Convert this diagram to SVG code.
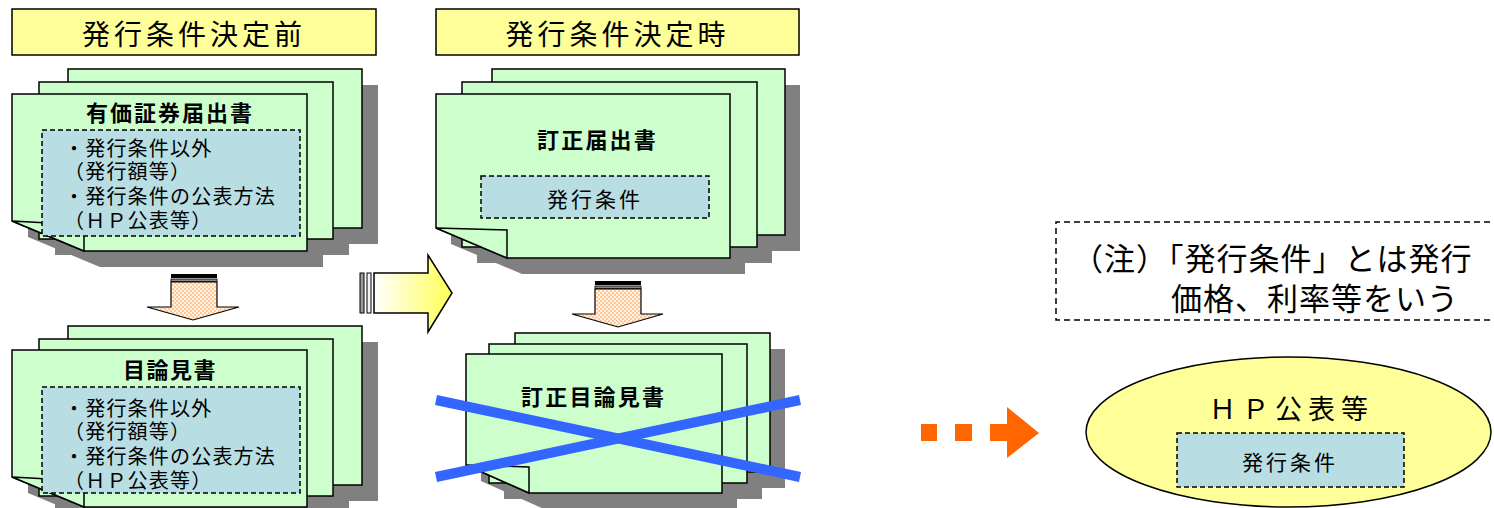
<svg xmlns="http://www.w3.org/2000/svg" width="1494" height="508" viewBox="0 0 1494 508">
<defs>
<style>
.t{font-family:"Noto Sans CJK JP","Noto Sans CJK SC",sans-serif;fill:#000}
.title{font-size:28px;letter-spacing:4px}
.hd{font-size:22px;font-weight:bold}
.li{font-family:"Liberation Sans","Noto Sans CJK JP","Noto Sans CJK SC",sans-serif;font-size:20px;letter-spacing:1.2px}
.sm{font-size:21px;letter-spacing:3px}
.note{font-family:"Liberation Sans","Noto Sans CJK JP","Noto Sans CJK SC",sans-serif;font-size:31px;letter-spacing:1px}
.tb{fill:#FFFF99;stroke:#000;stroke-width:1.5}
.sh{fill:#808080}
.sheet{fill:#CCFFCC;stroke:#000;stroke-width:1.5}
.ib{fill:#B8DEE3;stroke:#000;stroke-width:1.5;stroke-dasharray:5 3}
.dn{fill:url(#hatch);stroke:#000;stroke-width:1.2}
.x{stroke:#3366FF;stroke-width:10;fill:none}
</style>
<pattern id="hatch" width="4" height="4" patternUnits="userSpaceOnUse">
<rect width="4" height="4" fill="#FFF3E6"/>
<rect width="2" height="2" fill="#FFC896"/>
<rect x="2" y="2" width="2" height="2" fill="#FFC896"/>
</pattern>
<linearGradient id="yg" x1="0" y1="0" x2="1" y2="0">
<stop offset="0" stop-color="#FFFFFF"/>
<stop offset="1" stop-color="#FFFF55"/>
</linearGradient>
</defs>

<g id="title-before">
<rect class="tb" x="12" y="9" width="364" height="46"/>
<text class="t title" x="82" y="45">発行条件決定前</text>
</g>
<g id="title-at">
<rect class="tb" x="436" y="9" width="363" height="46"/>
<text class="t title" x="505.5" y="45">発行条件決定時</text>
</g>

<g id="doc-registration">
<rect class="sh" x="84" y="85" width="294" height="159"/>
<rect class="sh" x="55" y="98" width="294" height="157"/>
<path class="sh" d="M28,110 H323 V267 H100 L28,237 Z"/>
<rect class="sheet" x="68" y="69" width="294" height="159"/>
<rect class="sheet" x="39" y="82" width="294" height="157"/>
<path class="sheet" d="M12,94 H307 V251 H84 L12,221 Z"/>
<path class="sheet" d="M12,221 L84,225 V251 Z"/>
<text class="t hd" x="86" y="121" style="letter-spacing:2px">有価証券届出書</text>
<rect class="ib" x="42" y="130" width="258" height="106"/>
<text class="t li"><tspan x="64" y="156">・発行条件以外</tspan><tspan x="64" y="179">（発行額等）</tspan><tspan x="64" y="204">・発行条件の公表方法</tspan><tspan x="64" y="228">（ＨＰ公表等）</tspan></text>
</g>

<g id="doc-prospectus">
<rect class="sh" x="84" y="342" width="294" height="159"/>
<rect class="sh" x="55" y="355" width="294" height="157"/>
<path class="sh" d="M28,366 H323 V523 H100 L28,493 Z"/>
<rect class="sheet" x="68" y="326" width="294" height="159"/>
<rect class="sheet" x="39" y="339" width="294" height="157"/>
<path class="sheet" d="M12,350 H307 V507 H84 L12,477 Z"/>
<path class="sheet" d="M12,477 L84,481 V507 Z"/>
<text class="t hd" x="123" y="378" style="letter-spacing:1.5px">目論見書</text>
<rect class="ib" x="42" y="387" width="258" height="106"/>
<text class="t li"><tspan x="64" y="416">・発行条件以外</tspan><tspan x="64" y="439">（発行額等）</tspan><tspan x="64" y="464">・発行条件の公表方法</tspan><tspan x="64" y="488">（ＨＰ公表等）</tspan></text>
</g>

<g id="doc-amended-registration">
<rect class="sh" x="507" y="85" width="293" height="166"/>
<rect class="sh" x="477" y="98" width="295" height="165"/>
<path class="sh" d="M451,110 H745 V274 H522 L451,244 Z"/>
<rect class="sheet" x="492" y="69" width="293" height="166"/>
<rect class="sheet" x="462" y="82" width="295" height="165"/>
<path class="sheet" d="M436,94 H730 V258 H507 L436,228 Z"/>
<path class="sheet" d="M436,228 L507,230 V258 Z"/>
<text class="t hd" x="537" y="148" style="letter-spacing:2.2px">訂正届出書</text>
<rect class="ib" x="481" y="176" width="228" height="42"/>
<text class="t sm" x="547" y="207">発行条件</text>
</g>

<g id="doc-amended-prospectus">
<rect class="sh" x="530" y="349" width="255" height="139"/>
<rect class="sh" x="504" y="360" width="258" height="139"/>
<path class="sh" d="M481,370 H737 V509 H544 L481,481 Z"/>
<rect class="sheet" x="515" y="333" width="255" height="139"/>
<rect class="sheet" x="489" y="344" width="258" height="139"/>
<path class="sheet" d="M466,354 H722 V493 H529 L466,465 Z"/>
<path class="sheet" d="M466,465 L529,467 V493 Z"/>
<text class="t hd" x="521" y="404.5" style="letter-spacing:2.2px">訂正目論見書</text>
<line class="x" x1="436" y1="400" x2="800" y2="477"/>
<line class="x" x1="436" y1="477" x2="800" y2="400"/>
</g>

<g id="note">
<path d="M1500,222 H1056 V320 H1500" fill="none" stroke="#000" stroke-width="1.5" stroke-dasharray="6 4"/>
<text class="t note"><tspan x="1072" y="270">（注）「発行条件」とは発行</tspan><tspan x="1171" y="310">価格、利率等をいう</tspan></text>
</g>

<g id="hp-publication">
<ellipse cx="1288.5" cy="432" rx="202.5" ry="75" fill="#FFFF99" stroke="#000" stroke-width="1.5"/>
<text class="t" x="1209" y="419" style="font-size:27px;letter-spacing:6px">ＨＰ公表等</text>
<rect class="ib" x="1177" y="433" width="227" height="54"/>
<text class="t sm" x="1242" y="470">発行条件</text>
</g>

<g id="connectors">
<g id="arrow-down-left">
<rect x="171" y="274" width="46" height="4" fill="#000"/>
<rect x="171" y="279" width="46" height="2.5" fill="#888" stroke="#000" stroke-width="0.8"/>
<path class="dn" d="M171,282 H217 V307 H239 L193,320 L147,307 H171 Z"/>
</g>
<g id="arrow-down-mid">
<rect x="595" y="281" width="46" height="4" fill="#000"/>
<rect x="595" y="286" width="46" height="2.5" fill="#888" stroke="#000" stroke-width="0.8"/>
<path class="dn" d="M595,289 H641 V314 H663 L618,327 L572,314 H595 Z"/>
</g>
<g id="arrow-right-yellow">
<rect x="360" y="273" width="4" height="40" fill="#999" stroke="#000" stroke-width="1"/>
<rect x="367" y="273" width="4" height="40" fill="#F4F4F4" stroke="#000" stroke-width="1"/>
<path d="M374,273 H428 V255 L452,293 L428,332 V313 H374 Z" fill="url(#yg)" stroke="#000" stroke-width="1.5"/>
</g>
<g id="arrow-orange-dotted" fill="#FF6600">
<rect x="921" y="424" width="16" height="17"/>
<rect x="955" y="424" width="17" height="17"/>
<path d="M990,424 H1007 V407 L1039,433 L1007,458 V441 H990 Z"/>
</g>
</g>
</svg>
